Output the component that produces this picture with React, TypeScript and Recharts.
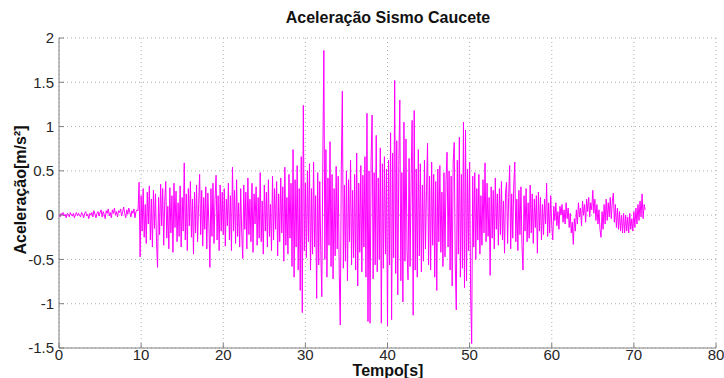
import { CartesianGrid, Line, LineChart, XAxis, YAxis } from "recharts";

// aceleração, m/s², por trecho de tempo
const X_TICKS = [0, 10, 20, 30, 40, 50, 60, 70, 80];
const Y_TICKS = [-1.5, -1, -0.5, 0, 0.5, 1, 1.5, 2];

// passo de amostragem usado em todos os trechos, s
const STEP = 0.125;

// 0 .. 9.5 s, quase parado
const calm = [
  0.01, -0.02, 0.02, 0.0, 0.03, -0.01, 0.01, -0.03, 0.02, 0.01, -0.02, 0.03,
  0.0, -0.01, 0.02, -0.03, 0.01, 0.03, -0.01, 0.02,
  0.0, -0.02, 0.03, 0.01, -0.03, 0.02, 0.04, -0.01, 0.01, -0.04, 0.02, 0.0,
  0.03, -0.02, 0.05, 0.01, -0.03, 0.02, 0.04, -0.01,
  0.03, 0.06, -0.02, 0.04, 0.01, -0.04, 0.05, 0.02, 0.07, -0.01, 0.03, -0.03,
  0.06, 0.02, 0.08, 0.0, 0.04, -0.02, 0.05, 0.03,
  0.07, -0.01, 0.04, 0.09, 0.02, -0.03, 0.06, 0.01, 0.08, 0.03, -0.02, 0.05,
  0.02, 0.07, -0.03, 0.04, 0.06,
];

const s10 = [
  0.05, 0.37, -0.47, 0.22, -0.18, 0.3, -0.25, 0.12, -0.32, 0.26, -0.1, 0.33,
  -0.28, 0.18, -0.36, 0.28, -0.15, 0.24, -0.3, -0.59, 0.2, -0.22, 0.35, -0.12,
  0.3, -0.34, 0.16, 0.38, -0.26, 0.1, -0.38, 0.31, -0.2, 0.22, -0.42, 0.36,
  -0.14, 0.27, -0.3, 0.14, -0.24, 0.33, -0.36, 0.2, -0.18, 0.59, -0.28, 0.24,
  -0.4, 0.3, -0.12, 0.38, -0.25, 0.18, -0.44, 0.26, -0.2, 0.34, -0.3, 0.12,
  0.46, -0.22, 0.28, -0.35, 0.2, -0.16, 0.32, -0.38, 0.25, -0.1, -0.59, 0.3,
  -0.24, 0.36, -0.32, 0.18, 0.45, -0.28, 0.22, -0.4, 0.34, -0.18, 0.26,
];
const s20 = [
  -0.22, 0.3, -0.35, 0.18, -0.12, 0.36, -0.28, 0.22, -0.4, 0.54, -0.18, 0.28,
  -0.32, 0.4, -0.24, 0.14, -0.36, 0.3, -0.2, -0.49, 0.34, -0.16, 0.26, -0.38,
  0.42, -0.22, 0.18, -0.3, 0.36, -0.42, 0.24, -0.1, 0.32, -0.34, 0.2, -0.26,
  0.48, -0.3, 0.16, -0.44, 0.34, -0.18, 0.26, -0.36, 0.4, -0.24, 0.12, -0.4,
  0.44, -0.28, 0.3, -0.16, 0.38, -0.46, 0.24, -0.3, 0.42, -0.2, 0.32, -0.52,
  0.54, -0.34, 0.2, -0.44, 0.46, -0.26, 0.36, -0.58, 0.74, -0.7, 0.4, -0.36,
  0.56, -0.62, 0.3, -0.85, 0.66, -1.1, 1.24, -0.4,
];
const s30 = [
  0.36, -0.48, 0.5, -0.3, 0.58, -0.62, 0.3, -0.44, 0.6, -0.36, 0.22, -0.94,
  0.48, -0.56, 0.38, -0.4, -0.92, 0.62, 1.86, -0.5, 0.74, -0.7, 0.42, -0.34,
  0.83, -0.58, 0.46, -0.72, 0.3, -0.46, 0.55, -0.38, 0.44, -0.66, -1.24, 0.52,
  1.4, -0.6, 0.34, -0.52, 0.5, -0.74, 0.4, -0.3, 0.62, -0.56, 0.28, -0.48,
  0.46, -0.62, 0.7, -0.8, 0.36, -0.42, 0.56, -0.64, 0.45, -0.36, 0.66, -0.7,
  1.15, -1.2, 0.5, -1.22, 0.6, 1.13, -0.72, 0.48, -0.56, 0.9, -0.64, 0.42,
  -0.5, 0.76, -1.22, 0.58, -0.6, 0.66, -0.44, 0.52,
];
const s40 = [
  -1.25, 0.62, -0.56, 0.93, -1.18, 0.7, -0.48, 1.52, -0.66, 0.84, -0.9, 0.56,
  1.3, -0.74, 0.48, -0.98, 1.05, -0.52, 0.86, -0.4, -0.73, 0.64, -0.58, 0.4,
  1.07, -1.13, 1.18, -0.62, 0.52, -0.7, 0.74, -0.46, 0.58, -0.64, 0.34, -0.52,
  0.62, -0.38, 0.28, 0.81, -0.56, 0.44, -0.62, 0.6, -0.34, 0.46, -0.7, 0.38,
  -0.85, 0.52, -0.3, 0.56, -0.42, 0.26, -0.58, 0.48, -0.47, 0.4, 0.71, -0.36,
  0.5, -0.62, 0.44, -0.8, 0.6, 0.82, -0.54, -1.07, 0.62, -0.44, 0.88, -0.7,
  0.46, -0.6, 1.05, -0.82, 0.96, -0.74, 0.52, -0.4,
];
const s50 = [
  0.6, -0.9, -1.45, 0.44, -0.36, 0.48, -0.5, 0.3, -0.28, 0.46, -0.44, 0.22,
  -0.34, 0.4, -0.2, 0.59, -0.3, 0.36, -0.24, 0.2, -0.68, 0.32, -0.26, 0.28,
  -0.38, 0.42, -0.16, 0.24, -0.34, 0.3, -0.22, 0.38, -0.28, 0.16, -0.43, 0.26,
  0.37, -0.32, 0.2, 0.56, -0.38, 0.24, -0.26, 0.34, 0.6, -0.3, 0.18, -0.4,
  0.28, -0.22, 0.32, -0.34, -0.62, 0.22, -0.18, 0.3, -0.3, 0.14, -0.26, 0.34,
  -0.2, 0.24, -0.32, 0.18, -0.14, 0.22, -0.43, 0.26, -0.18, 0.2, -0.28, 0.12,
  -0.22, 0.18, -0.1, 0.36, -0.24, 0.14, -0.2, 0.22,
];
const s60 = [
  -0.12, -0.28, 0.1, -0.06, 0.14, -0.12, 0.04, -0.16, 0.1, 0.0, 0.12, -0.08,
  0.06, -0.1, 0.14, -0.04, 0.08, -0.14, 0.02, -0.2, -0.08, -0.33, -0.04, -0.18,
  0.06, -0.1, 0.14, -0.02, 0.08, -0.12, 0.16, 0.0, 0.12, -0.08, 0.18, 0.04,
  0.2, -0.02, 0.14, 0.06, 0.28, 0.02, 0.18, -0.06, 0.12, -0.1, 0.06, -0.16,
  -0.25, 0.04, -0.16, 0.12, -0.1, 0.18, -0.06, 0.14, -0.02, 0.2, -0.04, 0.16,
  0.25, -0.08, 0.12, -0.14, 0.08, -0.16, 0.04, -0.18, 0.0, -0.2, 0.02, -0.2,
  0.0, -0.18, -0.02, -0.2, 0.02, -0.16, -0.04, -0.18, 0.04, -0.14, 0.08, -0.1,
  0.12, -0.06, 0.16, -0.02, 0.24, -0.04, 0.12, 0.06,
];

const SEGMENT_STARTS = [0, 9.625, 20, 30, 40, 50, 60];
const SEGMENTS = [calm, s10, s20, s30, s40, s50, s60];

const data: { t: number; a: number }[] = [];
SEGMENTS.forEach((values, k) =>
  values.forEach((a, i) =>
    data.push({ t: +(SEGMENT_STARTS[k] + i * STEP).toFixed(3), a }),
  ),
);

const FONT = '"Liberation Sans", Arial, sans-serif';
const tickStyle = { fontSize: 15, fill: "#262626", fontFamily: FONT };
const frame = "#808080";

export default function App() {
  return (
    <div
      style={{
        position: "absolute",
        left: 0,
        top: 0,
        width: 724,
        height: 378,
        background: "#fff",
        overflow: "hidden",
        fontFamily: FONT,
      }}
    >
      <div
        style={{
          position: "absolute",
          top: 9,
          left: 0,
          width: 776,
          textAlign: "center",
          fontSize: 16,
          fontWeight: "bold",
          color: "#111",
        }}
      >
        Aceleração Sismo Caucete
      </div>

      <LineChart
        width={724}
        height={378}
        data={data}
        margin={{ top: 38, right: 8, left: 0, bottom: 0 }}
      >
        <CartesianGrid stroke="#b0b0b0" strokeDasharray="1 3" />
        <XAxis
          dataKey="t"
          type="number"
          domain={[0, 80]}
          ticks={X_TICKS}
          height={30}
          stroke={frame}
          tickSize={-5}
          tickMargin={6}
          tick={tickStyle}
          allowDataOverflow
        />
        <XAxis
          xAxisId="top"
          orientation="top"
          type="number"
          domain={[0, 80]}
          ticks={X_TICKS}
          height={0}
          stroke={frame}
          tickSize={-5}
          tick={false}
          allowDataOverflow
        />
        <YAxis
          type="number"
          domain={[-1.5, 2]}
          ticks={Y_TICKS}
          width={59}
          stroke={frame}
          tickSize={-5}
          tickMargin={10}
          tick={tickStyle}
          allowDataOverflow
        />
        <YAxis
          yAxisId="right"
          orientation="right"
          type="number"
          domain={[-1.5, 2]}
          ticks={Y_TICKS}
          width={0}
          stroke={frame}
          tickSize={-5}
          tick={false}
          allowDataOverflow
        />
        <Line
          dataKey="a"
          type="linear"
          stroke="#ff00ff"
          strokeWidth={1}
          dot={false}
          isAnimationActive={false}
        />
      </LineChart>

      <div
        style={{
          position: "absolute",
          top: 364,
          left: 0,
          width: 776,
          textAlign: "center",
          fontSize: 16,
          lineHeight: "14px",
          fontWeight: "bold",
          color: "#111",
        }}
      >
        Tempo[s]
      </div>

      <div
        style={{
          position: "absolute",
          left: 21,
          top: 190,
          transform: "translate(-50%, -50%) rotate(-90deg)",
          whiteSpace: "nowrap",
          fontSize: 16,
          fontWeight: "bold",
          color: "#111",
        }}
      >
        Aceleração[m/s²]
      </div>
    </div>
  );
}
